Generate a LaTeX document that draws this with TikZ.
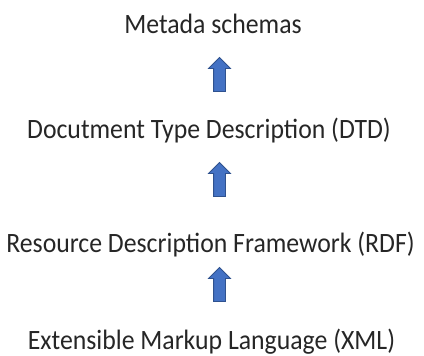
\documentclass[tikz,border=0pt]{standalone}
\usepackage{fontspec}
\setmainfont{Carlito}[FakeStretch=0.92]
\usetikzlibrary{shapes.arrows}

\definecolor{arrowfill}{HTML}{4472C4}
\definecolor{arrowline}{HTML}{2F528F}

\tikzset{
  layer/.style={anchor=base, inner sep=0pt, font=\fontsize{28bp}{32bp}\selectfont, text=black!85},
  uparrow/.style={shape=single arrow, shape border rotate=90, draw=arrowline, fill=arrowfill,
    line width=0.8bp, inner sep=5.5bp, minimum height=34bp, single arrow head extend=5bp}
}

\begin{document}
\begin{tikzpicture}[x=1bp,y=1bp]
  \useasboundingbox (0,0) rectangle (424,356);
  % stack of layers, bottom to top
  \node [layer] (xml) at (211.5,6.5) {Extensible Markup Language (XML)};
  \node [layer] (rdf) at (210.5,103.5) {Resource Description Framework (RDF)};
  \node [layer] (dtd) at (209,218) {Docutment Type Description (DTD)};
  \node [layer] (meta) at (213,323) {Metada schemas};
  % block arrows between the layers
  \node [uparrow] (a1) at (219.5,68.5) {};
  \node [uparrow] (a2) at (219.5,173.5) {};
  \node [uparrow] (a3) at (219.5,278.5) {};
\end{tikzpicture}
\end{document}
